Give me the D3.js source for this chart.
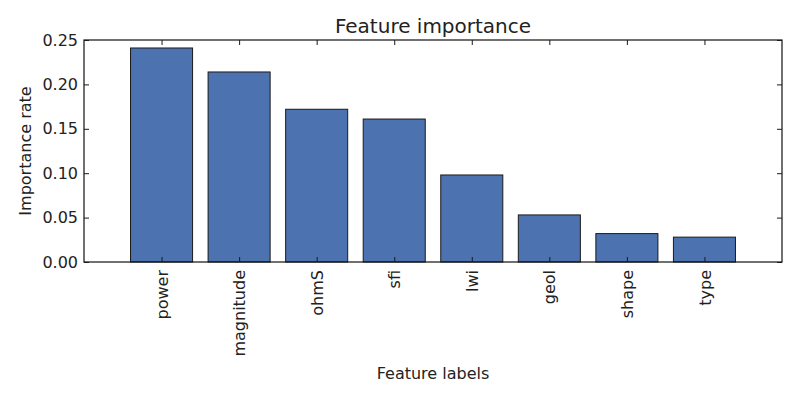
<!DOCTYPE html>
<html><head><meta charset="utf-8">
<script src="https://cdn.jsdelivr.net/npm/d3@7"></script>
<style>body{margin:0;background:#fff}svg{display:block}text{font-family:"DejaVu Sans",sans-serif;fill:#222}</style>
</head><body>
<svg id="c" width="800" height="400"></svg>
<script>
const categories = ["power","magnitude","ohmS","sfi","lwi","geol","shape","type"];
const values = [0.241,0.214,0.172,0.161,0.098,0.053,0.032,0.028];
const yTicks = [0,0.05,0.10,0.15,0.20,0.25];

const svg = d3.select("#c");
const L=84,R=782,T=40,B=262;
const x = d3.scaleLinear().domain([-1,categories.length]).range([L,R]);
const y = d3.scaleLinear().domain([0,0.25]).range([B,T]);
const bw = 0.8;

svg.append("g").selectAll("rect").data(values).join("rect")
  .attr("x",(d,i)=>x(i-bw/2)).attr("width",x(bw)-x(0))
  .attr("y",d=>y(d)).attr("height",d=>y(0)-y(d))
  .attr("fill","#4c72b0").attr("stroke","#1a1a1a").attr("stroke-width",1);

// frame
svg.append("rect").attr("x",L).attr("y",T).attr("width",R-L).attr("height",B-T)
  .attr("fill","none").attr("stroke","#111").attr("stroke-width",1.2);

const fmt = d3.format(".2f");
const yAxisL = d3.axisLeft(y).tickValues(yTicks).tickFormat(fmt).tickSizeInner(-5).tickSizeOuter(0).tickPadding(6);
const gy = svg.append("g").attr("transform",`translate(${L},0)`).call(yAxisL);
gy.select(".domain").remove();
gy.selectAll("text").style("font-size","16px").attr("fill","#222").attr("x",-6);
gy.selectAll("line").attr("stroke","#1a1a1a");
const yAxisR = d3.axisRight(y).tickValues(yTicks).tickFormat("").tickSizeInner(-5).tickSizeOuter(0);
const gyr = svg.append("g").attr("transform",`translate(${R},0)`).call(yAxisR);
gyr.select(".domain").remove();
gyr.selectAll("line").attr("stroke","#1a1a1a");

const xAxisB = d3.axisBottom(x).tickValues(d3.range(categories.length)).tickFormat(i=>categories[i]).tickSizeInner(-5).tickSizeOuter(0);
const gx = svg.append("g").attr("transform",`translate(0,${B})`).call(xAxisB);
gx.select(".domain").remove();
gx.selectAll("line").attr("stroke","#1a1a1a");
gx.selectAll("text").style("font-size","16px").attr("fill","#222")
  .attr("transform","rotate(-90)").attr("text-anchor","end")
  .attr("x",-8).attr("y",0).attr("dy","0.35em");
const xAxisT = d3.axisTop(x).tickValues(d3.range(categories.length)).tickFormat("").tickSizeInner(-5).tickSizeOuter(0);
const gxt = svg.append("g").attr("transform",`translate(0,${T})`).call(xAxisT);
gxt.select(".domain").remove();
gxt.selectAll("line").attr("stroke","#1a1a1a");

svg.append("text").attr("x",(L+R)/2).attr("y",33).attr("text-anchor","middle").style("font-size","20px").text("Feature importance");
svg.append("text").attr("x",(L+R)/2).attr("y",379).attr("text-anchor","middle").style("font-size","16px").text("Feature labels");
svg.append("text").attr("transform",`translate(31,${(T+B)/2}) rotate(-90)`).attr("text-anchor","middle").style("font-size","16px").text("Importance rate");
</script>
</body></html>
